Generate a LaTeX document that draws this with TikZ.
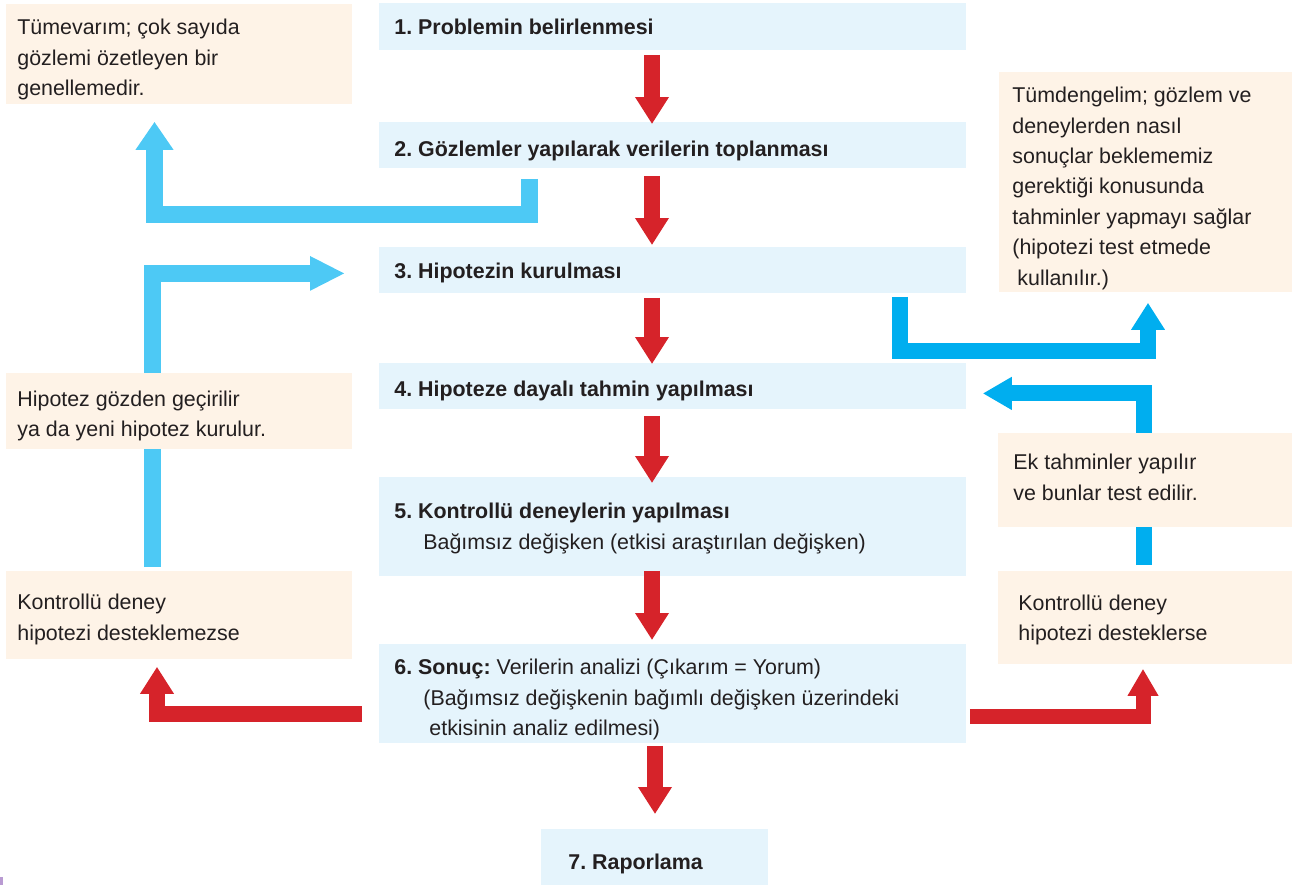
\documentclass[tikz,border=0pt]{standalone}
\usepackage{fontspec}
\setmainfont{Liberation Sans}
\frenchspacing
\usetikzlibrary{arrows.meta,calc,backgrounds}
\definecolor{cblue}{HTML}{E5F4FC}
\definecolor{ccream}{HTML}{FEF3E7}
\definecolor{cred}{HTML}{D6232A}
\definecolor{cskyL}{HTML}{4DC9F5}
\definecolor{cskyR}{HTML}{00AEEF}
\definecolor{cpurple}{HTML}{B99BD2}
\definecolor{ctext}{HTML}{231F20}
\begin{document}
\begin{tikzpicture}[x=0.5pt,y=-0.5pt,
  font=\fontsize{10.7}{15.2}\selectfont,
  cbox/.style={fill=cblue, draw=none, anchor=north west, inner sep=0pt, minimum width=293.5pt},
  sbox/.style={fill=ccream, draw=none, anchor=north west, inner sep=0pt},
  txt/.style={anchor=north west, align=left, inner sep=0pt, text=ctext},
  redarr/.style={draw=cred, line width=8pt, line join=miter,
    -{Triangle[width=16pt,length=13.5pt]}},
  bluearrL/.style={draw=cskyL, line width=8.5pt, line join=miter,
    -{Triangle[width=18pt,length=14pt]}},
  bluearrR/.style={draw=cskyR, line width=8pt, line join=miter,
    -{Triangle[width=16pt,length=13.5pt]}}
]
\useasboundingbox (0,0) rectangle (1294,885);

% central step boxes
\node[cbox, minimum height=23.5pt] (b1) at (379,3) {};
\node[cbox, minimum height=23pt] (b2) at (379,122) {};
\node[cbox, minimum height=23pt] (b3) at (379,247) {};
\node[cbox, minimum height=23pt] (b4) at (379,363) {};
\node[cbox, minimum height=49.5pt] (b5) at (379,477) {};
\node[cbox, minimum height=49.5pt] (b6) at (379,644) {};
\node[cbox, minimum width=113.5pt, minimum height=28pt] (b7) at (541,829) {};

% side note boxes
\node[sbox, minimum width=173pt, minimum height=50pt] (tl) at (6,4) {};
\node[sbox, minimum width=146.5pt, minimum height=110pt] (tr) at (999,72) {};
\node[sbox, minimum width=173pt, minimum height=38pt] (hip) at (6,373) {};
\node[sbox, minimum width=173pt, minimum height=44pt] (kl) at (6,571) {};
\node[sbox, minimum width=147pt, minimum height=47pt] (ek) at (998,433) {};
\node[sbox, minimum width=147pt, minimum height=46.5pt] (kr) at (998,571) {};

% texts
\node[txt] (b1t) at ($(b1.north west)+(15,10)$) {\strut\textbf{1. Problemin belirlenmesi}};
\node[txt] (b2t) at ($(b2.north west)+(15,12.7)$) {\strut\textbf{2. Gözlemler yapılarak verilerin toplanması}};
\node[txt] (b3t) at ($(b3.north west)+(15,10)$) {\strut\textbf{3. Hipotezin kurulması}};
\node[txt] (b4t) at ($(b4.north west)+(15,12)$) {\strut\textbf{4. Hipoteze dayalı tahmin yapılması}};
\node[txt] (b5t) at ($(b5.north west)+(15,20)$) {\strut\textbf{5. Kontrollü deneylerin yapılması}\\\hspace*{14.5pt}Bağımsız değişken (etkisi araştırılan değişken)};
\node[txt] (b6t) at ($(b6.north west)+(15,9)$) {\strut\textbf{6. Sonuç:} Verilerin analizi (Çıkarım = Yorum)\\\hspace*{14.5pt}(Bağımsız değişkenin bağımlı değişken üzerindeki\\\hspace*{17.5pt}etkisinin analiz edilmesi)};
\node[txt] (b7t) at ($(b7.north west)+(27,19)$) {\strut\textbf{7. Raporlama}};

\node[txt] (tlt) at ($(tl.north west)+(11,9)$) {\strut Tümevarım; çok sayıda\\gözlemi özetleyen bir\\genellemedir.};
\node[txt] (trt) at ($(tr.north west)+(13,9)$) {\strut Tümdengelim; gözlem ve\\deneylerden nasıl\\sonuçlar beklememiz\\gerektiği konusunda\\tahminler yapmayı sağlar\\(hipotezi test etmede\\\hspace*{2.5pt}kullanılır.)};
\node[txt] (hipt) at ($(hip.north west)+(11,11.4)$) {\strut Hipotez gözden geçirilir\\ya da yeni hipotez kurulur.};
\node[txt] (klt) at ($(kl.north west)+(11,17)$) {\strut Kontrollü deney\\hipotezi desteklemezse};
\node[txt] (ekt) at ($(ek.north west)+(15,15)$) {\strut Ek tahminler yapılır\\ve bunlar test edilir.};
\node[txt] (krt) at ($(kr.north west)+(20,17.5)$) {\strut Kontrollü deney\\hipotezi desteklerse};

% x positions of the connectors
\coordinate (ax) at (652,0);
\coordinate (ax7) at (655,0);
\coordinate (c1) at (529.5,0);
\coordinate (c2) at (154.5,0);
\coordinate (c3) at (152,0);
\coordinate (c4) at (900,0);
\coordinate (c5) at (1148,0);
\coordinate (c6) at (1144,0);
\coordinate (c7) at (157,0);
\coordinate (c8) at (1143,0);

% blue connectors passing behind boxes
\begin{pgfonlayer}{background}
\draw[bluearrL, -{Triangle[width=16pt,length=17.5pt]}]
  ($(kl.north -| c3)+(0,-4)$) |- ($(b3.west)+(-34,3)$);
\draw[bluearrR, -{Triangle[width=15.5pt,length=14.5pt]}]
  ($(kr.north -| c6)+(0,-6)$) |- ($(b4.east)+(16,7)$);
\end{pgfonlayer}

% blue connectors
\draw[bluearrL] ($(b2.south -| c1)+(0,10)$) -- ++(0,36) -| ($(tl.south -| c2)+(0,17)$);
\draw[bluearrR] ($(b3.south -| c4)+(0,3)$) -- ++(0,54) -| ($(tr.south -| c5)+(0,10)$);

% red main flow
\draw[redarr] ($(b1.south -| ax)+(0,4)$) -- ($(b2.north -| ax)+(0,2)$);
\draw[redarr] ($(b2.south -| ax)+(0,7)$) -- ($(b3.north -| ax)+(0,-2)$);
\draw[redarr] ($(b3.south -| ax)+(0,4)$) -- ($(b4.north -| ax)+(0,1)$);
\draw[redarr] ($(b4.south -| ax)+(0,6)$) -- ($(b5.north -| ax)+(0,6)$);
\draw[redarr] ($(b5.south -| ax)+(0,-6)$) -- ($(b6.north -| ax)+(0,-4)$);
\draw[redarr] ($(b6.south -| ax7)+(0,2)$) -- ($(b7.north -| ax7)+(0,-15)$);

% red side branches
\draw[redarr] ($(b6.west)+(-17,20.5)$) -| ($(kl.south -| c7)+(0,7)$);
\draw[redarr, line width=7.5pt, -{Triangle[width=14.5pt,length=13.5pt]}]
  ($(b6.east)+(3,23)$) -| ($(kr.south -| c8)+(0,4)$);

% small mark at the lower left edge
\fill[cpurple] (0,877) rectangle (3,885);
\end{tikzpicture}
\end{document}
